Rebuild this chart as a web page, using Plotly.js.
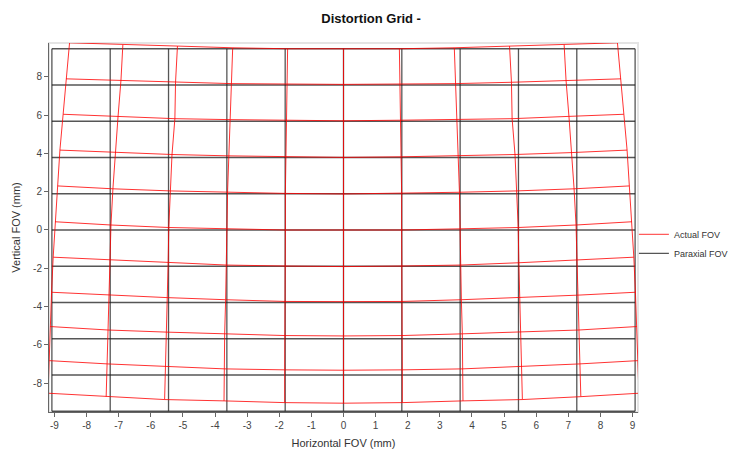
<!DOCTYPE html>
<html>
<head>
<meta charset="utf-8">
<script src="https://cdn.plot.ly/plotly-3.0.1.min.js"></script>
<style>html,body{margin:0;padding:0;background:#fff;}#chart{width:732px;height:449px;}</style>
</head>
<body>
<div id="chart"></div>
<script>
// Paraxial (ideal) grid positions, mm
const paraxialX = [-9.08, -7.264, -5.448, -3.632, -1.816, 0, 1.816, 3.632, 5.448, 7.264, 9.08];
const paraxialY = [9.46, 7.568, 5.676, 3.784, 1.892, 0, -1.892, -3.784, -5.676, -7.568, -9.46];

// Actual (distorted) grid intersections, rows top to bottom, columns left to right
const actualX = [
  [-8.53, -6.87, -5.17, -3.45, -1.74, 0, 1.74, 3.45, 5.17, 6.87, 8.53],
  [-8.64, -6.93, -5.23, -3.49, -1.76, 0, 1.76, 3.49, 5.23, 6.93, 8.64],
  [-8.73, -7.02, -5.25, -3.52, -1.77, 0, 1.77, 3.52, 5.25, 7.02, 8.73],
  [-8.83, -7.11, -5.34, -3.58, -1.81, 0, 1.81, 3.58, 5.34, 7.11, 8.83],
  [-8.90, -7.18, -5.39, -3.61, -1.81, 0, 1.81, 3.61, 5.39, 7.18, 8.90],
  [-8.98, -7.24, -5.44, -3.63, -1.81, 0, 1.81, 3.63, 5.44, 7.24, 8.98],
  [-9.04, -7.27, -5.46, -3.64, -1.82, 0, 1.82, 3.64, 5.46, 7.27, 9.04],
  [-9.09, -7.31, -5.49, -3.67, -1.82, 0, 1.82, 3.67, 5.49, 7.31, 9.09],
  [-9.13, -7.33, -5.51, -3.70, -1.82, 0, 1.82, 3.70, 5.51, 7.33, 9.13],
  [-9.16, -7.35, -5.53, -3.70, -1.83, 0, 1.83, 3.70, 5.53, 7.35, 9.16],
  [-9.20, -7.39, -5.57, -3.72, -1.83, 0, 1.83, 3.72, 5.57, 7.39, 9.20]
];
const actualY = [
  [9.77, 9.67, 9.60, 9.51, 9.46, 9.46, 9.46, 9.51, 9.60, 9.67, 9.77],
  [7.89, 7.80, 7.71, 7.64, 7.62, 7.60, 7.62, 7.64, 7.71, 7.80, 7.89],
  [6.04, 5.93, 5.81, 5.76, 5.73, 5.70, 5.73, 5.76, 5.81, 5.93, 6.04],
  [4.17, 4.04, 3.94, 3.87, 3.82, 3.79, 3.82, 3.87, 3.94, 4.04, 4.17],
  [2.30, 2.15, 2.04, 1.97, 1.91, 1.88, 1.91, 1.97, 2.04, 2.15, 2.30],
  [0.43, 0.26, 0.13, 0.06, 0.00, 0.00, 0.00, 0.06, 0.13, 0.26, 0.43],
  [-1.42, -1.56, -1.71, -1.83, -1.88, -1.91, -1.88, -1.83, -1.71, -1.56, -1.42],
  [-3.25, -3.40, -3.53, -3.64, -3.73, -3.74, -3.73, -3.64, -3.53, -3.40, -3.25],
  [-5.04, -5.22, -5.33, -5.42, -5.51, -5.53, -5.51, -5.42, -5.33, -5.22, -5.04],
  [-6.82, -6.99, -7.12, -7.25, -7.30, -7.32, -7.30, -7.25, -7.12, -6.99, -6.82],
  [-8.52, -8.70, -8.85, -8.92, -9.01, -9.04, -9.01, -8.92, -8.85, -8.70, -8.52]
];

const xTicks = [-9,-8,-7,-6,-5,-4,-3,-2,-1,0,1,2,3,4,5,6,7,8,9];
const yTicks = [-8,-6,-4,-2,0,2,4,6,8];

function gridPath(getX, getY, nr, nc) {
  const xs = [], ys = [];
  for (let r = 0; r < nr; r++) {
    for (let c = 0; c < nc; c++) { xs.push(getX(r, c)); ys.push(getY(r, c)); }
    xs.push(null); ys.push(null);
  }
  for (let c = 0; c < nc; c++) {
    for (let r = 0; r < nr; r++) { xs.push(getX(r, c)); ys.push(getY(r, c)); }
    xs.push(null); ys.push(null);
  }
  return {xs, ys};
}

const par = gridPath((r, c) => paraxialX[c], (r, c) => paraxialY[r], paraxialY.length, paraxialX.length);
const act = gridPath((r, c) => actualX[r][c], (r, c) => actualY[r][c], actualY.length, actualX[0].length);

const traces = [
  {
    x: par.xs, y: par.ys, mode: 'lines', name: 'Paraxial FOV', legendrank: 2,
    line: {color: 'rgba(30,30,30,0.75)', width: 1.3}, connectgaps: false, hoverinfo: 'skip'
  },
  {
    x: act.xs, y: act.ys, mode: 'lines', name: 'Actual FOV', legendrank: 1,
    line: {color: 'rgba(255,0,0,0.8)', width: 1}, connectgaps: false, hoverinfo: 'skip'
  }
];

const axisFont = {family: 'Liberation Sans, Arial, sans-serif', size: 10, color: '#444'};
const layout = {
  width: 732, height: 449,
  margin: {l: 49, r: 94, t: 43, b: 37, autoexpand: false},
  paper_bgcolor: '#fff', plot_bgcolor: '#fff',
  font: {family: 'Liberation Sans, Arial, sans-serif', size: 10, color: '#333'},
  title: {text: 'Distortion Grid -', x: 0.507, xref: 'container', y: 0.96, yref: 'container', yanchor: 'middle',
          font: {family: 'Liberation Sans, Arial, sans-serif', size: 13, color: '#111', weight: 'bold'}},
  xaxis: {
    range: [-9.17, 9.17], tickvals: xTicks, ticktext: xTicks.map(String), automargin: false,
    showgrid: false, zeroline: false, showline: true, linecolor: '#666', linewidth: 1,
    ticks: 'outside', ticklen: 4, tickcolor: '#666', tickfont: axisFont,
    title: {text: 'Horizontal FOV (mm)', standoff: 10, font: {family: 'Liberation Sans, Arial, sans-serif', size: 11, color: '#333'}}
  },
  yaxis: {
    range: [-9.5, 9.76], tickvals: yTicks, ticktext: yTicks.map(String), automargin: false,
    showgrid: false, zeroline: false, showline: true, linecolor: '#666', linewidth: 1,
    ticks: 'outside', ticklen: 4, tickcolor: '#666', tickfont: axisFont,
    title: {text: 'Vertical FOV (mm)', standoff: 10, font: {family: 'Liberation Sans, Arial, sans-serif', size: 11, color: '#333'}}
  },
  showlegend: true,
  legend: {xref: 'container', x: 0.866, xanchor: 'left', yref: 'container', y: 0.457, yanchor: 'middle', itemwidth: 30,
           font: {family: 'Liberation Sans, Arial, sans-serif', size: 9, color: '#333'},
           bgcolor: 'rgba(0,0,0,0)', tracegroupgap: 0},
  shapes: [{type: 'rect', xref: 'paper', yref: 'paper', x0: 0, x1: 1, y0: 0, y1: 1,
            line: {color: '#e4e4e4', width: 2}, layer: 'below'}]
};

Plotly.newPlot('chart', traces, layout, {displayModeBar: false, staticPlot: true});
</script>
</body>
</html>
